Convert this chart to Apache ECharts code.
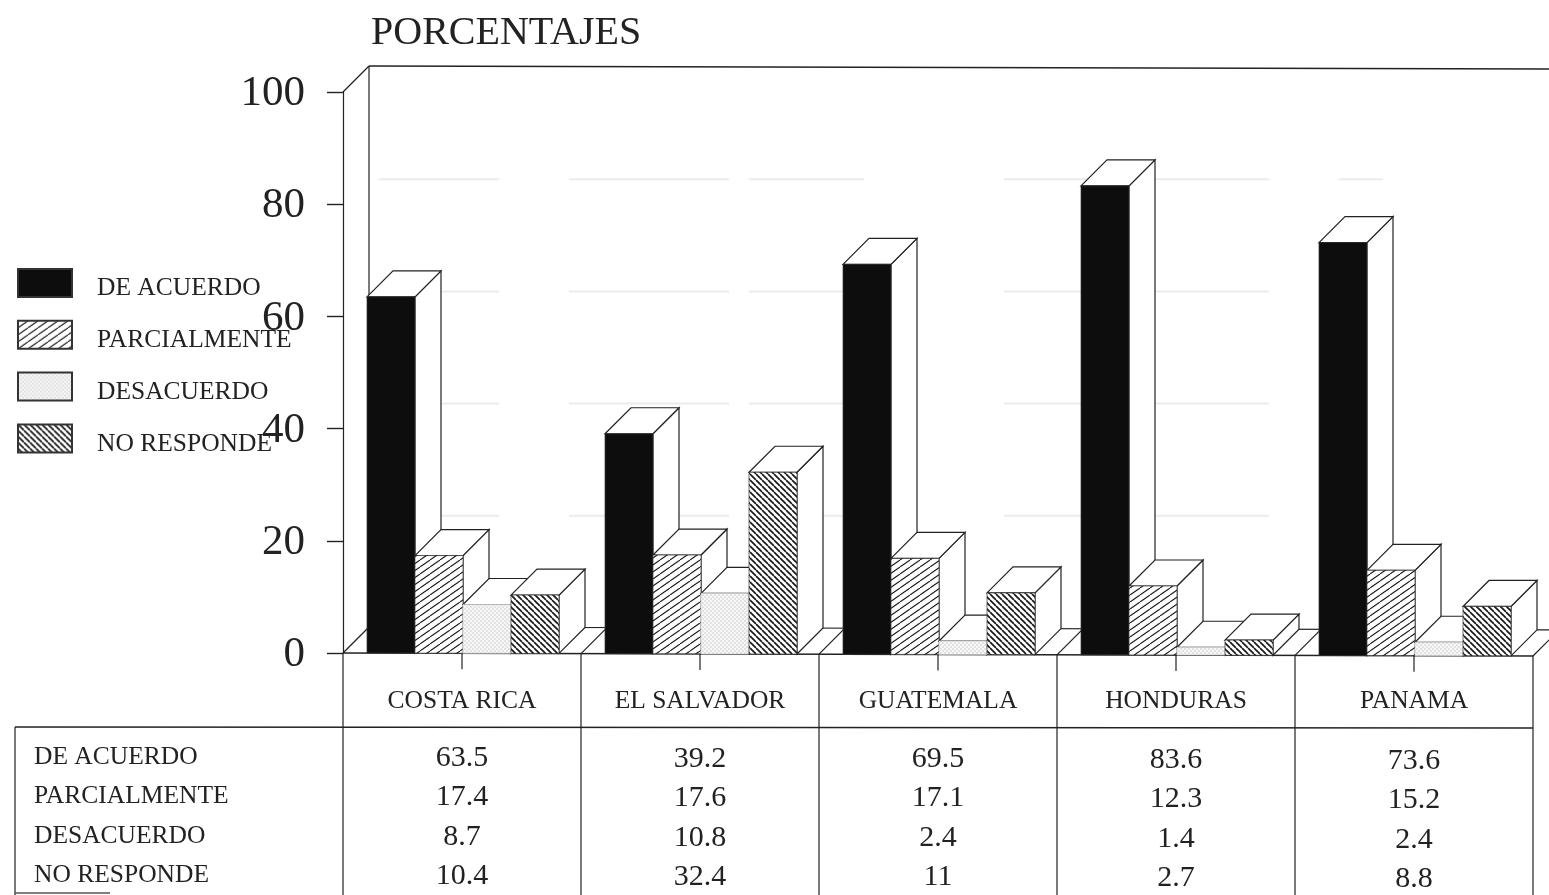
<!DOCTYPE html>
<html>
<head>
<meta charset="utf-8">
<style>html,body{margin:0;padding:0;background:#fff}#c{width:1549px;height:895px}</style>
<script src="https://cdn.jsdelivr.net/npm/echarts@6/dist/echarts.min.js"></script>
</head>
<body>
<div id="c"></div>
<script>
const countries = ['COSTA RICA', 'EL SALVADOR', 'GUATEMALA', 'HONDURAS', 'PANAMA'];
const deAcuerdo = [63.5, 39.2, 69.5, 83.6, 73.6];
const parcialmente = [17.4, 17.6, 17.1, 12.3, 15.2];
const desacuerdo = [8.7, 10.8, 2.4, 1.4, 2.4];
const noResponde = [10.4, 32.4, 11, 2.7, 8.8];
const seriesNames = ['DE ACUERDO', 'PARCIALMENTE', 'DESACUERDO', 'NO RESPONDE'];
const seriesValues = [deAcuerdo, parcialmente, desacuerdo, noResponde];
const yTicks = [0, 20, 40, 60, 80, 100];

const SERIF = '"Liberation Serif", serif';
const INK = '#222';
const DEPTH = 26;
const GRID_LEFT = 343, GRID_WIDTH = 1190;
// the scanned page sits very slightly askew: 3px drop across the plot width
const tilt = x => (x - GRID_LEFT) * 3 / GRID_WIDTH;

function tile(w, h, draw) {
  const c = document.createElement('canvas');
  c.width = w; c.height = h;
  draw(c.getContext('2d'), w, h);
  return c;
}
function hatch(w, h, width, rising) {
  return tile(w, h, (g) => {
    g.fillStyle = '#fff'; g.fillRect(0, 0, w, h);
    g.strokeStyle = '#1a1a1a'; g.lineWidth = width;
    for (let k = -1; k <= 1; k++) {
      g.beginPath();
      if (rising) { g.moveTo(k * w, h); g.lineTo(k * w + w, 0); }
      else { g.moveTo(k * w, 0); g.lineTo(k * w + w, h); }
      g.stroke();
    }
  });
}
const fills = [
  '#0d0d0d',
  { image: hatch(10, 7, 1.1, true), repeat: 'repeat' },
  { image: tile(4, 4, (g) => { g.fillStyle = '#f7f7f7'; g.fillRect(0, 0, 4, 4); g.fillStyle = '#e2e2e2'; g.fillRect(0, 0, 2, 2); g.fillRect(2, 2, 2, 2); }), repeat: 'repeat' },
  { image: hatch(6, 6, 1.7, false), repeat: 'repeat' }
];

function barItem(seriesIdx) {
  return function (params, api) {
    const band = api.size([1, 0])[0];
    const bw = band * 48 / 238;
    const c = api.coord([api.value(0), api.value(1)]);
    const x = c[0] - band / 2 + band * 24 / 238 + seriesIdx * bw;
    const t = tilt(x);
    const base = api.coord([api.value(0), 0])[1] + t;
    const y = c[1] + t;
    const ls = { stroke: INK, lineWidth: 1.2, fill: '#fff' };
    return {
      type: 'group',
      children: [
        { type: 'polygon', shape: { points: [[x + bw, base], [x + bw + DEPTH, base - DEPTH], [x + bw + DEPTH, y - DEPTH], [x + bw, y]] }, style: ls },
        { type: 'polygon', shape: { points: [[x, y], [x + DEPTH, y - DEPTH], [x + bw + DEPTH, y - DEPTH], [x + bw, y]] }, style: ls },
        { type: 'rect', shape: { x: x, y: y, width: bw, height: base - y }, style: { fill: fills[seriesIdx], stroke: seriesIdx === 2 ? '#ccc' : '#333', lineWidth: 0.7 } }
      ]
    };
  };
}

function wallItem(params, api) {
  const p0 = api.coord([0, 0]), p100 = api.coord([0, 100]);
  const band = api.size([1, 0])[0];
  const left = p0[0] - band / 2;
  const right = left + band * countries.length;
  const line = (x1, y1, x2, y2, w, c) => ({ type: 'line', shape: { x1, y1, x2, y2 }, style: { stroke: c || INK, lineWidth: w || 1.2 } });
  const children = [
    line(left, p100[1], left + DEPTH, p100[1] - DEPTH),
    line(left + DEPTH, p100[1] - DEPTH, right + DEPTH, p100[1] - DEPTH + 3, 1.6),
    line(left + DEPTH, p100[1] - DEPTH, left + DEPTH, p0[1] - DEPTH),
    line(left + DEPTH, p0[1] - DEPTH, right + DEPTH, p0[1] - DEPTH + 3)
  ];
  yTicks.slice(1, -1).forEach(v => {
    const y = api.coord([0, v])[1] - DEPTH + 1;
    children.push({ type: 'line', shape: { x1: left + 36, y1: y, x2: right - 150, y2: y },
      style: { stroke: '#ececec', lineWidth: 2, lineDash: [120, 70, 160, 20, 115, 140, 90, 55] } });
  });
  for (let i = 0; i <= countries.length; i++) {
    const x = left + i * band;
    children.push(line(x, p0[1] + tilt(x), x + DEPTH, p0[1] + tilt(x) - DEPTH));
  }
  return { type: 'group', children };
}

function tableItem(params, api) {
  const p0 = api.coord([0, 0]);
  const band = api.size([1, 0])[0];
  const left = p0[0] - band / 2;
  const base = p0[1];
  const headY = base + 74;
  const bottom = 895;
  const rowY = [104, 143, 183, 222];
  const tableLeft = 15;
  const right = left + band * countries.length;
  const line = (x1, y1, x2, y2, w, c) => ({ type: 'line', shape: { x1, y1, x2, y2 }, style: { stroke: c || INK, lineWidth: w || 1.2 } });
  const children = [
    line(left, base, right, base + tilt(right), 1.5),
    line(tableLeft, headY, right, headY + 1, 1.4),
    line(tableLeft, headY, tableLeft, bottom),
    line(tableLeft, bottom - 2, 110, bottom - 2, 1.4, '#555')
  ];
  for (let i = 0; i <= countries.length; i++) {
    const x = left + i * band;
    children.push(line(x, base + tilt(x), x, bottom));
  }
  countries.forEach((_, c) => {
    const x = left + (c + 0.5) * band;
    children.push(line(x, base + tilt(x), x, base + tilt(x) + 16));
  });
  seriesNames.forEach((name, r) => {
    children.push({ type: 'text', style: { x: 34, y: base + rowY[r], text: name, fill: INK,
      font: '25.5px ' + SERIF, textAlign: 'left', textVerticalAlign: 'middle' } });
    seriesValues[r].forEach((v, c) => {
      const x = left + (c + 0.5) * band;
      children.push({ type: 'text', style: { x, y: base + rowY[r] + 1 + tilt(x), text: String(v), fill: INK,
        font: '30px ' + SERIF, textAlign: 'center', textVerticalAlign: 'middle' } });
    });
  });
  return { type: 'group', children };
}

const barSeries = seriesNames.map((name, i) => ({
  name, type: 'custom', z: 3, clip: false,
  itemStyle: { color: fills[i], borderColor: '#333', borderWidth: 1 },
  renderItem: barItem(i),
  encode: { x: 0, y: 1 },
  data: seriesValues[i].map((v, k) => [k, v])
}));

const chart = echarts.init(document.getElementById('c'), null, { renderer: 'canvas' });
chart.setOption({
  animation: false,
  backgroundColor: '#fff',
  title: { text: 'PORCENTAJES', left: 371, top: 13, padding: 0, textStyle: { fontFamily: SERIF, fontSize: 40, fontWeight: 'normal', color: INK } },
  legend: {
    orient: 'vertical', left: 17, top: 268, padding: 0, itemWidth: 54, itemHeight: 28, itemGap: 18.3,
    data: seriesNames.map(name => ({ name, icon: 'rect' })),
    formatter: '{t|{name}}',
    textStyle: { rich: { t: { fontFamily: SERIF, fontSize: 25.5, color: INK, padding: [11, 0, 0, 20] } } },
    selectedMode: false, z: 10
  },
  grid: { left: GRID_LEFT, top: 92, width: GRID_WIDTH, height: 561 },
  xAxis: {
    type: 'category', data: countries, boundaryGap: true,
    axisLine: { show: false },
    axisTick: { show: false },
    axisLabel: { margin: 35, interval: 0, fontFamily: SERIF, fontSize: 25.5, color: INK },
    splitLine: { show: false }
  },
  yAxis: {
    type: 'value', min: 0, max: 100, interval: 20,
    axisLine: { show: true, lineStyle: { color: INK, width: 1.2 } },
    axisTick: { show: true, length: 16, lineStyle: { color: INK, width: 1.4 } },
    axisLabel: { margin: 38, formatter: '{t|{value}}', rich: { t: { fontFamily: SERIF, fontSize: 43, color: INK, padding: [4, 0, 0, 0] } } },
    splitLine: { show: false }
  },
  tooltip: { show: false },
  series: [
    { name: 'wall', type: 'custom', z: 1, clip: false, silent: true, renderItem: wallItem, encode: { x: 0, y: 1 }, data: [[0, 0]] },
    ...barSeries,
    { name: 'table', type: 'custom', z: 2, clip: false, silent: true, renderItem: tableItem, encode: { x: 0, y: 1 }, data: [[0, 0]] }
  ]
});
</script>
</body>
</html>
